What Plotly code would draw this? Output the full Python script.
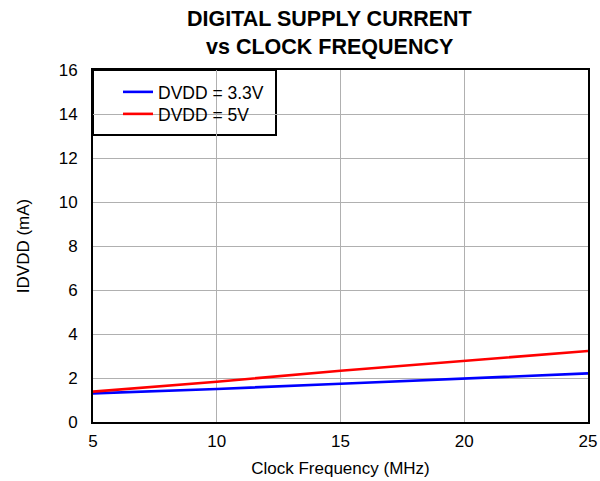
import plotly.graph_objects as go

freq_mhz = [5, 10, 15, 20, 25]
idvdd_3v3 = [1.30, 1.50, 1.74, 1.99, 2.21]
idvdd_5v = [1.38, 1.83, 2.33, 2.79, 3.23]
series_names = ["DVDD = 3.3V", "DVDD = 5V"]
title_lines = ["DIGITAL SUPPLY CURRENT", "vs CLOCK FREQUENCY"]

FONT = "Liberation Sans, Arial, sans-serif"
OFF = 0  # body margin removed by post_script below
PX_L, PX_R, PX_T, PX_B = 93, 588, 70, 422  # plot frame in screen pixels
W, H = 600 - OFF, 481 - OFF
pw = PX_R - PX_L
ph = PX_B - PX_T


def xp(px):
    return (px - PX_L) / pw


def yp(py):
    return (PX_B - py) / ph


fig = go.Figure()
fig.add_trace(go.Scatter(x=freq_mhz, y=idvdd_3v3, mode="lines", name=series_names[0],
                         line=dict(color="#0000ff", width=2.6), legend="legend"))
fig.add_trace(go.Scatter(x=freq_mhz, y=idvdd_5v, mode="lines", name=series_names[1],
                         line=dict(color="#ff0000", width=2.6), legend="legend2"))

for txt, ypix in zip(title_lines, [18.5, 46.5]):
    fig.add_annotation(text=f"<b>{txt}</b>", xref="paper", yref="paper",
                       x=xp(329), y=yp(ypix), xanchor="center", yanchor="middle",
                       showarrow=False, font=dict(family=FONT, size=21.5, color="black"))

# legend frame
fig.add_shape(type="rect", xref="paper", yref="paper",
              x0=0, x1=xp(276), y0=yp(135), y1=1,
              line=dict(color="black", width=2), fillcolor="white", layer="below")

leg_common = dict(xanchor="left", yanchor="middle", bgcolor="rgba(0,0,0,0)", borderwidth=0,
                  font=dict(family=FONT, size=17.5, color="black"))
fig.update_layout(
    width=W, height=H,
    margin=dict(l=PX_L - OFF, r=600 - PX_R, t=PX_T - OFF, b=481 - PX_B, autoexpand=False),
    paper_bgcolor="white", plot_bgcolor="rgba(0,0,0,0)",
    font=dict(family=FONT, size=17, color="black"),
    legend=dict(x=xp(118), y=yp(92), **leg_common),
    legend2=dict(x=xp(118), y=yp(114), **leg_common),
    showlegend=True,
)
fig.update_xaxes(range=[5, 25], dtick=5, showgrid=True, gridcolor="#b0b0b0", gridwidth=1,
                 showline=True, linecolor="black", linewidth=2, mirror=True,
                 ticks="outside", ticklen=3, tickcolor="rgba(0,0,0,0)", zeroline=False,
                 automargin=False,
                 title=dict(text="Clock Frequency (MHz)", font=dict(size=17), standoff=12),
                 tickfont=dict(size=17))
fig.update_yaxes(range=[0, 16], dtick=2, showgrid=True, gridcolor="#b0b0b0", gridwidth=1,
                 showline=True, linecolor="black", linewidth=2, mirror=True,
                 ticks="outside", ticklen=10, tickcolor="rgba(0,0,0,0)", zeroline=False,
                 automargin=False,
                 title=dict(text="IDVDD (mA)", font=dict(size=17), standoff=25),
                 tickfont=dict(size=17))

fig.write_html(
    "out.html",
    config={"displayModeBar": False},
    post_script=("document.documentElement.style.margin='0';"
                 "document.body.style.margin='0';"
                 "document.documentElement.style.overflow='hidden';"
                 "document.body.style.overflow='hidden';"),
)
